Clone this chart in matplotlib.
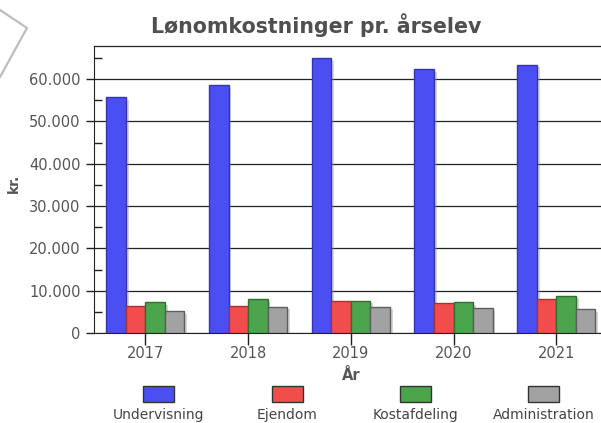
import numpy as np
import matplotlib
matplotlib.use("Agg")
import matplotlib.pyplot as plt
import matplotlib.patheffects as pe
from matplotlib.patches import Rectangle
from matplotlib.lines import Line2D
from matplotlib.ticker import FuncFormatter, MultipleLocator

years = ["2017", "2018", "2019", "2020", "2021"]
undervisning = [55700, 58500, 64900, 62400, 63400]
ejendom = [6450, 6450, 7640, 7010, 7960]
kostafdeling = [7250, 7960, 7640, 7320, 8820]
administration = [5200, 6220, 6220, 5900, 5590]

series_names = ["Undervisning", "Ejendom", "Kostafdeling", "Administration"]
series_values = [undervisning, ejendom, kostafdeling, administration]
fills = ["#4b4ff2", "#f24d4d", "#4ca44c", "#a2a2a2"]
edges = ["#3535b0", "#a83232", "#2f6f2f", "#5e5e5e"]

W, H = 601, 423
fig = plt.figure(figsize=(W / 100, H / 100), dpi=100)
fig.patch.set_facecolor("white")

# axes placed in pixel terms, right edge runs past the picture
left, right, bottom, top = 94, 607.6, 333, 46
ax = fig.add_axes([left / W, (H - bottom) / H, (right - left) / W, (bottom - top) / H])

x = np.arange(len(years))
w = 0.19
shadow = [pe.SimplePatchShadow(offset=(2, -2), shadow_rgbFace="#888888", alpha=0.35), pe.Normal()]
for i, (vals, fc, ec) in enumerate(zip(series_values, fills, edges)):
    bars = ax.bar(x + (i - 1.5) * w, vals, width=w, color=fc, edgecolor=ec, linewidth=1, zorder=3)
    for b in bars:
        b.set_path_effects(shadow)

ax.set_xlim(-0.5, 4.5)
ax.set_ylim(0, 67800)
ax.set_xticks(x)
ax.set_xticklabels(years)
ax.yaxis.set_major_locator(MultipleLocator(10000))
ax.yaxis.set_minor_locator(MultipleLocator(5000))
ax.yaxis.set_major_formatter(FuncFormatter(lambda v, p: f"{int(v):,}".replace(",", ".")))

ax.grid(axis="y", which="major", color="#222222", linewidth=0.9, zorder=1)
ax.spines["right"].set_visible(False)
for s in ["top", "left", "bottom"]:
    ax.spines[s].set_color("#222222")
ax.spines["top"].set_linewidth(0.9)

txt = "#555555"
ax.tick_params(axis="y", which="major", direction="out", length=6, width=1, color="#222222",
               labelsize=10.5, labelcolor=txt, pad=3.5)
ax.tick_params(axis="y", which="minor", direction="in", length=6, width=1, color="#222222")
ax.tick_params(axis="x", direction="inout", length=17, width=1, color="#222222",
               labelsize=10.5, labelcolor=txt, pad=1)

ax.set_xlabel("År", fontsize=10.5, fontweight="bold", color=txt, labelpad=5)
ax.set_ylabel("kr.", fontsize=10, fontweight="bold", color=txt)
ax.yaxis.set_label_coords(-0.142, 0.523)

fig.text(316 / W, 1 - 33 / H, "Lønomkostninger pr. årselev", ha="center", va="baseline",
         fontsize=14.8, fontweight="bold", color="#4f4f4f")

# legend: swatch with text underneath
sw_x = [142.7, 271.7, 400, 528]
for sx, name, fc, ec in zip(sw_x, series_names, fills, edges):
    fig.add_artist(Rectangle((sx / W, 1 - 401.7 / H), 31 / W, 16 / H, transform=fig.transFigure,
                             facecolor=fc, edgecolor="#333333", linewidth=1))
    fig.text((sx + 15.5) / W, 1 - 419 / H, name, ha="center", va="baseline",
             fontsize=10, color="#444444")

# grey outline in the top-left corner
fig.add_artist(Line2D([0, 27 / W, 0], [1 - 10 / H, 1 - 28 / H, 1 - 77 / H], transform=fig.transFigure,
                      color="#bdbdbd", linewidth=1.6))

fig.savefig("out.png", dpi=100)
